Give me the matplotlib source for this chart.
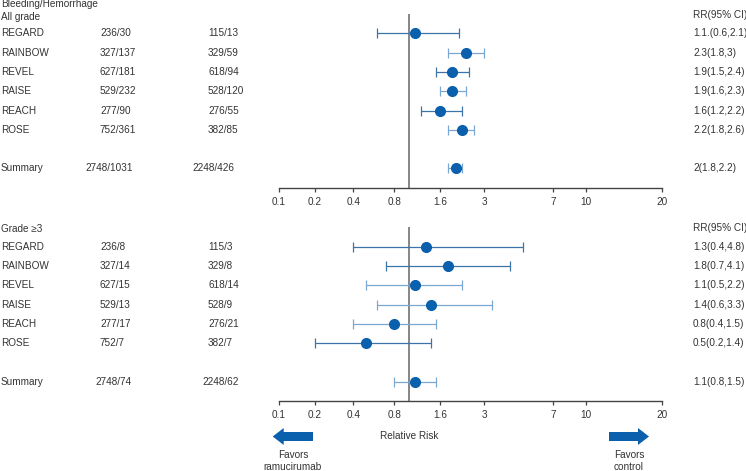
import numpy as np
import matplotlib
matplotlib.use("Agg")
import matplotlib.pyplot as plt
from matplotlib.transforms import blended_transform_factory, Affine2D
from matplotlib.patches import FancyArrow

plt.rcParams['font.family'] = ['Liberation Sans', 'DejaVu Sans']

# ---------------- data ----------------
studies = ["REGARD", "RAINBOW", "REVEL", "RAISE", "REACH", "ROSE"]

all_ram = ["236/30", "327/137", "627/181", "529/232", "277/90", "752/361"]
all_ctl = ["115/13", "329/59", "618/94", "528/120", "276/55", "382/85"]
all_rr = [1.1, 2.3, 1.9, 1.9, 1.6, 2.2]
all_lo = [0.6, 1.8, 1.5, 1.6, 1.2, 1.8]
all_hi = [2.1, 3.0, 2.4, 2.3, 2.2, 2.6]
all_lab = ["1.1.(0.6,2.1)", "2.3(1.8,3)", "1.9(1.5,2.4)", "1.9(1.6,2.3)",
           "1.6(1.2,2.2)", "2.2(1.8,2.6)"]
all_sum = ("2748/1031", "2248/426", 2.0, 1.8, 2.2, "2(1.8,2.2)")

g3_ram = ["236/8", "327/14", "627/15", "529/13", "277/17", "752/7"]
g3_ctl = ["115/3", "329/8", "618/14", "528/9", "276/21", "382/7"]
g3_rr = [1.3, 1.8, 1.1, 1.4, 0.8, 0.5]
g3_lo = [0.4, 0.7, 0.5, 0.6, 0.4, 0.2]
g3_hi = [4.8, 4.1, 2.2, 3.3, 1.5, 1.4]
g3_lab = ["1.3(0.4,4.8)", "1.8(0.7,4.1)", "1.1(0.5,2.2)", "1.4(0.6,3.3)",
          "0.8(0.4,1.5)", "0.5(0.2,1.4)"]
g3_sum = ("2748/74", "2248/62", 1.1, 0.8, 1.5, "1.1(0.8,1.5)")

tick_vals = [0.1, 0.2, 0.4, 0.8, 1.6, 3, 7, 10, 20]
tick_labels = ["0.1", "0.2", "0.4", "0.8", "1.6", "3", "7", "10", "20"]

# ---------------- layout / style ----------------
W, H = 746, 471
tick_px = np.array([279, 315, 353.3, 394.3, 440, 484.3, 553.3, 586, 661.7])
log_ticks = np.log(np.array(tick_vals, dtype=float))


def fwd(x):
    x = np.asarray(x, dtype=float)
    lx = np.log(np.clip(x, 1e-12, None))
    return np.interp(lx, log_ticks, tick_px)


def inv(p):
    return np.exp(np.interp(np.asarray(p, dtype=float), tick_px, log_ticks))


DARK = "#3d74a8"
LIGHT = "#7ba8d2"
MARK = "#0a60ad"
TXT = "#333333"
FS = 7.2

fig = plt.figure(figsize=(W / 100, H / 100), dpi=100)

row_px = 19.3


def make_panel(axis_y_px, header_lines, ram, ctl, rr, lo, hi, labs, summ,
               colors, sum_color, sum_x):
    ax = fig.add_axes([tick_px[0] / W, 1 - axis_y_px / H,
                       (tick_px[-1] - tick_px[0]) / W, 9 * row_px / H])
    ax.set_xscale('function', functions=(fwd, inv))
    ax.set_xlim(tick_vals[0], tick_vals[-1])
    ax.set_ylim(8, -1)
    for s in ["top", "right", "left"]:
        ax.spines[s].set_visible(False)
    ax.spines["bottom"].set_color("#444444")
    ax.spines["bottom"].set_linewidth(1.0)
    ax.set_yticks([])
    ax.set_xticks(tick_vals)
    ax.set_xticklabels(tick_labels)
    ax.xaxis.set_minor_locator(matplotlib.ticker.NullLocator())
    ax.tick_params(axis='x', direction='out', length=3, width=0.9,
                   colors="#444444", labelsize=FS, pad=3.5, labelcolor=TXT)
    ax.axvline(1.0, color="#666666", lw=1.1, zorder=1)
    ax.patch.set_alpha(0)

    ys = list(range(len(rr)))
    for i in ys:
        ax.errorbar([rr[i]], [i], xerr=[[rr[i] - lo[i]], [hi[i] - rr[i]]],
                    fmt='none', ecolor=colors[i], elinewidth=0.9,
                    capsize=3.5, capthick=0.9, zorder=2)
    ax.plot(rr, ys, 'o', color=MARK, ms=7, mec=MARK, zorder=3, clip_on=False)
    sy = 7
    ax.errorbar([summ[2]], [sy], xerr=[[summ[2] - summ[3]], [summ[4] - summ[2]]],
                fmt='none', ecolor=sum_color, elinewidth=0.9, capsize=3.5,
                capthick=0.9, zorder=2)
    ax.plot([summ[2]], [sy], 'o', color=MARK, ms=7, mec=MARK, zorder=3)

    tr = blended_transform_factory(fig.transFigure, ax.transData)
    for i in ys:
        ax.text(1 / W, i, studies[i], transform=tr, va='center', ha='left',
                fontsize=FS, color=TXT)
        ax.text(100 / W, i, ram[i], transform=tr, va='center', ha='left',
                fontsize=FS, color=TXT)
        ax.text(208 / W, i, ctl[i], transform=tr, va='center', ha='left',
                fontsize=FS, color=TXT)
        ax.text(693 / W, i, labs[i], transform=tr, va='center', ha='left',
                fontsize=FS, color=TXT)
    ax.text(1 / W, sy, "Summary", transform=tr, va='center', ha='left',
            fontsize=FS, color=TXT)
    ax.text(sum_x[0] / W, sy, summ[0], transform=tr, va='center', ha='left',
            fontsize=FS, color=TXT)
    ax.text(sum_x[1] / W, sy, summ[1], transform=tr, va='center', ha='left',
            fontsize=FS, color=TXT)
    ax.text(693 / W, sy, summ[5], transform=tr, va='center', ha='left',
            fontsize=FS, color=TXT)
    ax.text(693 / W, -0.97, "RR(95% CI)", transform=tr, va='center',
            ha='left', fontsize=FS, color=TXT)
    for txt, yy in header_lines:
        ax.text(1 / W, yy, txt, transform=tr, va='center', ha='left',
                fontsize=FS, color=TXT)
    return ax


ax1 = make_panel(187.7, [("Bleeding/Hemorrhage", -1.52), ("All grade", -0.86)],
                 all_ram, all_ctl, all_rr, all_lo, all_hi, all_lab, all_sum,
                 [DARK, LIGHT, DARK, LIGHT, DARK, LIGHT], LIGHT, (85, 192))
ax2 = make_panel(401.0, [("Grade \u22653", -0.9)],
                 g3_ram, g3_ctl, g3_rr, g3_lo, g3_hi, g3_lab, g3_sum,
                 [DARK, DARK, LIGHT, LIGHT, LIGHT, DARK], LIGHT, (95, 202.7))


def fx(px):
    return px / W


def fy(py):
    return 1 - py / H


fig.text(fx(409), fy(436), "Relative Risk", ha='center', va='center',
         fontsize=FS, color=TXT)
fig.text(fx(293), fy(455), "Favors", ha='center', va='center', fontsize=FS,
         color=TXT)
fig.text(fx(293), fy(466.5), "ramucirumab", ha='center', va='center',
         fontsize=FS, color=TXT)
fig.text(fx(629), fy(455), "Favors", ha='center', va='center', fontsize=FS,
         color=TXT)
fig.text(fx(629), fy(466.5), "control", ha='center', va='center',
         fontsize=FS, color=TXT)

pix = Affine2D().scale(1, -1).translate(0, H)
arr_l = FancyArrow(313, 436.5, -40.3, 0, width=9, head_width=17,
                   head_length=11, length_includes_head=True, color=MARK,
                   transform=pix, lw=0)
arr_r = FancyArrow(609, 436.5, 40, 0, width=9, head_width=17,
                   head_length=11, length_includes_head=True, color=MARK,
                   transform=pix, lw=0)
fig.patches.extend([arr_l, arr_r])

fig.savefig("out.png", dpi=100)
